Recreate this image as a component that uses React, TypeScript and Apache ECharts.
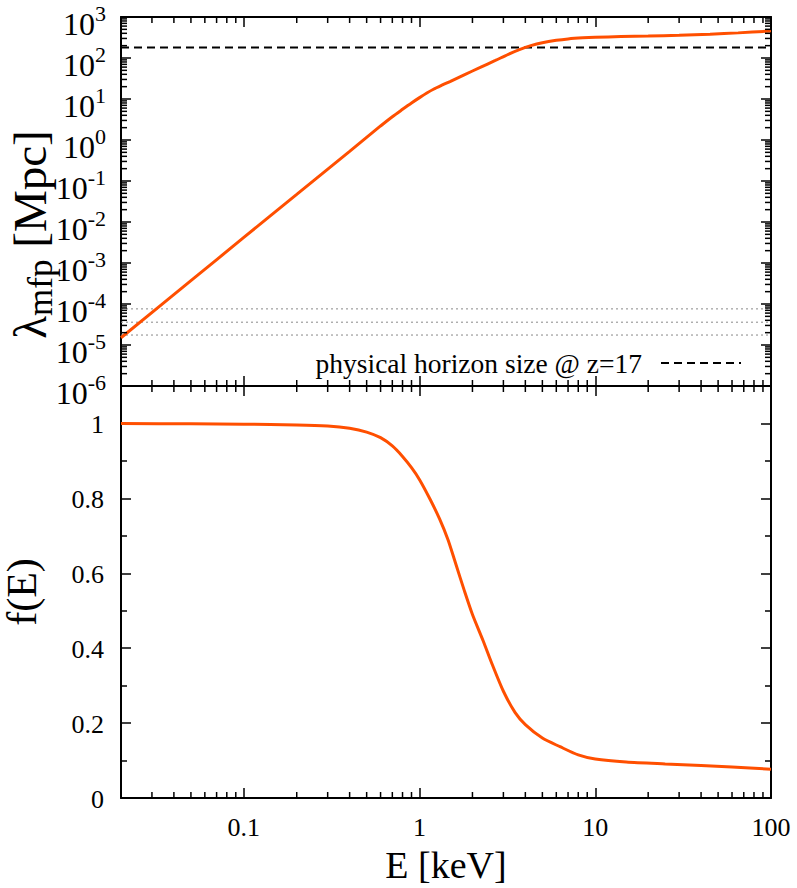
import React, { useEffect, useRef } from "react";
import * as echarts from "echarts";

// ---------- data ----------
const xMin = 0.02;
const xMax = 100;
const yTopMin = 1e-6;
const yTopMax = 1e3;

// mean free path curve (top panel)
const energyTop = [0.02, 0.05, 0.1, 0.2, 0.4, 0.6, 0.7, 0.8, 0.9, 1.0, 1.1, 1.2, 1.35, 1.5, 1.82, 2.2, 2.7, 3.2, 3.7, 4.3, 5.0, 6.0, 7.0, 8.5, 10, 14, 20, 30, 45, 65, 100];
const mfpValues = [1.5e-5, 3.7e-4, 4.2e-3, 0.047, 0.53, 2.2, 3.7, 5.6, 8.0, 10.8, 14.0, 17.3, 22, 27, 40, 58, 87, 123, 160, 200, 236, 270, 292, 310, 320, 333, 343, 357, 380, 410, 455];

// physical horizon size @ z=17 (dashed) and dotted reference levels
const horizonSize = 180;
const horizonLabel = "physical horizon size @ z=17";
const dottedLevels = [7.6e-5, 3.6e-5, 1.75e-5];

// f(E) curve (bottom panel)
const energyBottom = [0.02, 0.05, 0.1, 0.2, 0.3, 0.4, 0.5, 0.6, 0.7, 0.8, 0.9, 1.0, 1.15, 1.3, 1.45, 1.6, 1.8, 2.0, 2.3, 2.6, 3.0, 3.5, 4.0, 5.0, 6.3, 8.0, 10, 15, 25, 40, 60, 100];
const fractionValues = [1.0, 0.999, 0.998, 0.996, 0.993, 0.987, 0.977, 0.962, 0.94, 0.912, 0.882, 0.85, 0.797, 0.745, 0.69, 0.628, 0.553, 0.49, 0.42, 0.355, 0.285, 0.228, 0.196, 0.16, 0.137, 0.115, 0.104, 0.096, 0.091, 0.087, 0.083, 0.077];

// tick labels
const xTickValues = [0.1, 1, 10, 100];
const xTickLabels = ["0.1", "1", "10", "100"];
const fTickValues = [0, 0.2, 0.4, 0.6, 0.8, 1];
const fTickLabels = ["0", "0.2", "0.4", "0.6", "0.8", "1"];
const mfpTickValues = [1e-6, 1e-5, 1e-4, 1e-3, 1e-2, 1e-1, 1, 10, 100, 1000];
const mfpTickExponents = ["-6", "-5", "-4", "-3", "-2", "-1", "0", "1", "2", "3"];

// minor tick positions
const xDecades = [0.01, 0.1, 1, 10];
const yDecades = [1e-6, 1e-5, 1e-4, 1e-3, 1e-2, 1e-1, 1, 10, 100];
const minorMultipliers = [2, 3, 4, 5, 6, 7, 8, 9];

const FONT = "Liberation Serif";
const ORANGE = "#ff4f00";

function minorValues(decades: number[], lo: number, hi: number) {
  const out: number[] = [];
  decades.forEach((d) => minorMultipliers.forEach((m) => {
    const v = d * m;
    if (v > lo * 1.0001 && v < hi * 0.9999) out.push(v);
  }));
  return out;
}

function xMinorSeries(xi: number, yi: number, yRef: number, len: number) {
  return {
    type: "custom",
    xAxisIndex: xi,
    yAxisIndex: yi,
    silent: true,
    clip: false,
    z: 5,
    data: minorValues(xDecades, xMin, xMax).map((v) => [v, yRef]),
    renderItem: (params: any, api: any) => {
      const cs = params.coordSys;
      const x = api.coord([api.value(0), yRef])[0];
      const style = { stroke: "#000", lineWidth: 1.5 };
      return {
        type: "group",
        children: [
          { type: "line", shape: { x1: x, y1: cs.y, x2: x, y2: cs.y + len }, style },
          { type: "line", shape: { x1: x, y1: cs.y + cs.height, x2: x, y2: cs.y + cs.height - len }, style },
        ],
      };
    },
  };
}

function yMinorSeries(xi: number, yi: number, xRef: number, len: number) {
  return {
    type: "custom",
    xAxisIndex: xi,
    yAxisIndex: yi,
    silent: true,
    clip: false,
    z: 5,
    data: minorValues(yDecades, yTopMin, yTopMax).map((v) => [xRef, v]),
    renderItem: (params: any, api: any) => {
      const cs = params.coordSys;
      const y = api.coord([xRef, api.value(1)])[1];
      const style = { stroke: "#000", lineWidth: 1.5 };
      return {
        type: "group",
        children: [
          { type: "line", shape: { x1: cs.x, y1: y, x2: cs.x + len, y2: y }, style },
          { type: "line", shape: { x1: cs.x + cs.width, y1: y, x2: cs.x + cs.width - len, y2: y }, style },
        ],
      };
    },
  };
}

const axisLine = { show: true, onZero: false, lineStyle: { color: "#000", width: 2 } };
const majorTick = { show: true, inside: true, length: 10, lineStyle: { color: "#000", width: 1.5 } };

export default function App() {
  const ref = useRef<HTMLDivElement>(null);
  useEffect(() => {
    if (!ref.current) return;
    const chart = echarts.init(ref.current, undefined, { renderer: "svg" });

    const logX = (gridIndex: number, position: string) => ({
      type: "log",
      logBase: 10,
      gridIndex,
      position,
      min: xMin,
      max: xMax,
      axisLine,
      axisTick: majorTick,
      splitLine: { show: false },
      axisLabel: { show: false },
    });

    const option: any = {
      animation: false,
      backgroundColor: "#fff",
      textStyle: { fontFamily: FONT },
      grid: [
        { left: 121, right: 26, top: 17, height: 369, outerBoundsMode: "none", containLabel: false },
        { left: 121, right: 26, top: 386, height: 412, outerBoundsMode: "none", containLabel: false },
      ],
      legend: {
        data: [horizonLabel],
        right: 50,
        top: 344,
        align: "right",
        itemWidth: 80,
        itemHeight: 14,
        itemStyle: { opacity: 0 },
        textStyle: { fontFamily: FONT, fontSize: 27.5, color: "#000", padding: [0, 14, 0, 0] },
        selectedMode: false,
      },
      xAxis: [
        logX(0, "bottom"),
        logX(0, "top"),
        {
          ...logX(1, "bottom"),
          name: "E [keV]",
          nameLocation: "middle",
          nameGap: 48,
          nameTextStyle: { fontFamily: FONT, fontSize: 38, color: "#000" },
        },
        logX(1, "top"),
      ],
      yAxis: [
        {
          type: "log",
          logBase: 10,
          gridIndex: 0,
          position: "left",
          min: yTopMin,
          max: yTopMax,
          axisLine,
          axisTick: majorTick,
          splitLine: { show: false },
          axisLabel: { show: false },
          name: "{l|λ}{m|mfp}{r| [Mpc]}",
          nameLocation: "middle",
          nameGap: 71,
          nameTextStyle: {
            padding: [0, 66, 0, 0],
            rich: {
              l: { fontFamily: FONT, fontSize: 47, lineHeight: 40, color: "#000" },
              m: { fontFamily: FONT, fontSize: 35, lineHeight: 10, color: "#000", verticalAlign: "top", padding: [13, 0, 0, 0] },
              r: { fontFamily: FONT, fontSize: 47, lineHeight: 40, color: "#000" },
            },
          },
        },
        {
          type: "log",
          logBase: 10,
          gridIndex: 0,
          position: "right",
          min: yTopMin,
          max: yTopMax,
          axisLine,
          axisTick: majorTick,
          splitLine: { show: false },
          axisLabel: { show: false },
        },
        {
          type: "value",
          gridIndex: 1,
          position: "left",
          min: 0,
          max: 1.1,
          interval: 0.2,
          axisLine,
          axisTick: majorTick,
          minorTick: { show: true, splitNumber: 2, length: 6, lineStyle: { color: "#000", width: 1.5 } },
          splitLine: { show: false },
          axisLabel: { show: false },
          name: "f(E)",
          nameLocation: "middle",
          nameGap: 79,
          nameTextStyle: { fontFamily: FONT, fontSize: 42, lineHeight: 40, color: "#000" },
        },
        {
          type: "value",
          gridIndex: 1,
          position: "right",
          min: 0,
          max: 1.1,
          interval: 0.2,
          axisLine,
          axisTick: majorTick,
          minorTick: { show: true, splitNumber: 2, length: 6, lineStyle: { color: "#000", width: 1.5 } },
          splitLine: { show: false },
          axisLabel: { show: false },
        },
      ],
      series: [
        ...dottedLevels.map((lvl) => ({
          type: "line",
          xAxisIndex: 0,
          yAxisIndex: 0,
          symbol: "none",
          silent: true,
          z: 1,
          lineStyle: { color: "#888", width: 1, type: [2, 3] },
          data: [[xMin, lvl], [xMax, lvl]],
        })),
        {
          name: horizonLabel,
          type: "line",
          xAxisIndex: 0,
          yAxisIndex: 0,
          symbol: "none",
          silent: true,
          z: 2,
          color: "#000",
          lineStyle: { color: "#000", width: 2, type: [8, 5] },
          data: [[xMin, horizonSize], [xMax, horizonSize]],
        },
        {
          type: "line",
          xAxisIndex: 0,
          yAxisIndex: 0,
          symbol: "none",
          silent: true,
          z: 3,
          smooth: 0.3,
          lineStyle: { color: ORANGE, width: 3 },
          data: energyTop.map((e, i) => [e, mfpValues[i]]),
        },
        {
          type: "line",
          xAxisIndex: 2,
          yAxisIndex: 2,
          symbol: "none",
          silent: true,
          z: 3,
          smooth: 0.25,
          lineStyle: { color: ORANGE, width: 3 },
          data: energyBottom.map((e, i) => [e, fractionValues[i]]),
        },
        xMinorSeries(0, 0, 1, 6),
        yMinorSeries(0, 0, 1, 6),
        xMinorSeries(2, 2, 0.5, 6),
      ],
    };
    chart.setOption(option);

    // tick labels placed through the axes' own scales
    const elements: any[] = [];
    const xAxisY = chart.convertToPixel({ yAxisIndex: 2 }, 0) as number;
    xTickValues.forEach((v, i) => {
      const x = chart.convertToPixel({ xAxisIndex: 2 }, v) as number;
      elements.push({
        type: "text",
        x,
        y: xAxisY + 29,
        silent: true,
        style: { text: xTickLabels[i], fontFamily: FONT, fontSize: 26, fill: "#000", align: "center", verticalAlign: "middle" },
      });
    });
    const leftX = chart.convertToPixel({ xAxisIndex: 2 }, xMin) as number;
    fTickValues.forEach((v, i) => {
      const y = chart.convertToPixel({ yAxisIndex: 2 }, v) as number;
      elements.push({
        type: "text",
        x: leftX - 17,
        y: y + 1,
        silent: true,
        style: { text: fTickLabels[i], fontFamily: FONT, fontSize: 26, fill: "#000", align: "right", verticalAlign: "middle" },
      });
    });
    mfpTickValues.forEach((v, i) => {
      const y = chart.convertToPixel({ yAxisIndex: 0 }, v) as number;
      elements.push({
        type: "text",
        x: leftX - 15,
        y: y,
        silent: true,
        style: {
          text: `{b|10}{s|${mfpTickExponents[i]}}`,
          align: "right",
          verticalAlign: "middle",
          rich: {
            b: { fontFamily: FONT, fontSize: 32, fill: "#000", padding: [14, 0, 0, 0] },
            s: { fontFamily: FONT, fontSize: 22, fill: "#000", verticalAlign: "top", padding: [8, 0, 0, 0] },
          },
        },
      });
    });
    chart.setOption({ graphic: { elements } });

    return () => chart.dispose();
  }, []);

  return (
    <div
      ref={ref}
      style={{ position: "fixed", left: 0, top: 0, width: 797, height: 888, background: "#fff" }}
    />
  );
}
